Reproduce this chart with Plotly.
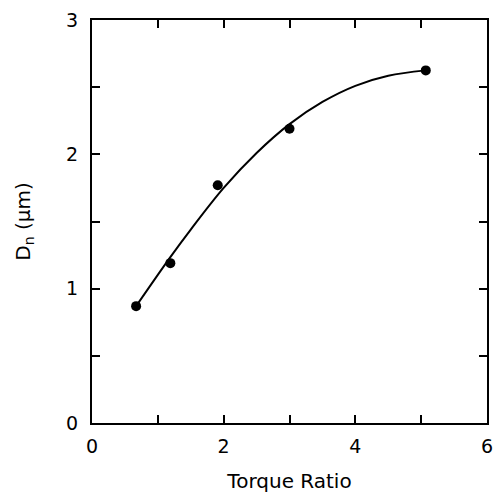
import plotly.graph_objects as go

# Measured data
torque_ratio = [0.67, 1.19, 1.91, 3.0, 5.07]
dn_um = [0.87, 1.19, 1.77, 2.19, 2.625]

# Smooth trend curve through the data
curve_x = [0.67, 1.19, 1.5, 2.0, 2.5, 3.0, 3.5, 4.0, 4.5, 5.07]
curve_y = [0.87, 1.235, 1.44, 1.75, 2.01, 2.225, 2.39, 2.51, 2.585, 2.625]

x_tickvals = [0, 1, 2, 3, 4, 5, 6]
x_ticktext = ["0", "", "2", "", "4", "", "6"]
y_tickvals = [0, 0.5, 1, 1.5, 2, 2.5, 3]
y_ticktext = ["0", "", "1", "", "2", "", "3"]

font_family = "DejaVu Sans"

fig = go.Figure()
fig.add_trace(go.Scatter(
    x=curve_x, y=curve_y, mode="lines",
    line=dict(color="black", width=2, shape="spline", smoothing=1.0),
    hoverinfo="skip", showlegend=False,
))
fig.add_trace(go.Scatter(
    x=torque_ratio, y=dn_um, mode="markers",
    marker=dict(color="black", size=10),
    showlegend=False,
))

axis_common = dict(
    showgrid=False, zeroline=False, showline=True, linecolor="black",
    linewidth=2, mirror="ticks", ticks="inside", ticklen=8, tickwidth=1.5,
    tickcolor="black", tickfont=dict(family=font_family, size=19, color="black"),
)

fig.update_xaxes(
    range=[0, 6], tickvals=x_tickvals, ticktext=x_ticktext, ticklabelstandoff=5,
    title=dict(text="Torque Ratio", font=dict(family=font_family, size=20, color="black"), standoff=18),
    **axis_common,
)
fig.update_yaxes(
    range=[0, 3], tickvals=y_tickvals, ticktext=y_ticktext, ticklabelstandoff=8,
    title=dict(text="D<sub>n</sub> (μm)", font=dict(family=font_family, size=20, color="black"), standoff=30),
    **axis_common,
)

fig.update_layout(
    width=498, height=494,
    margin=dict(l=92, r=5, t=20, b=70),
    plot_bgcolor="white", paper_bgcolor="white",
)

fig.write_html("out.html")
